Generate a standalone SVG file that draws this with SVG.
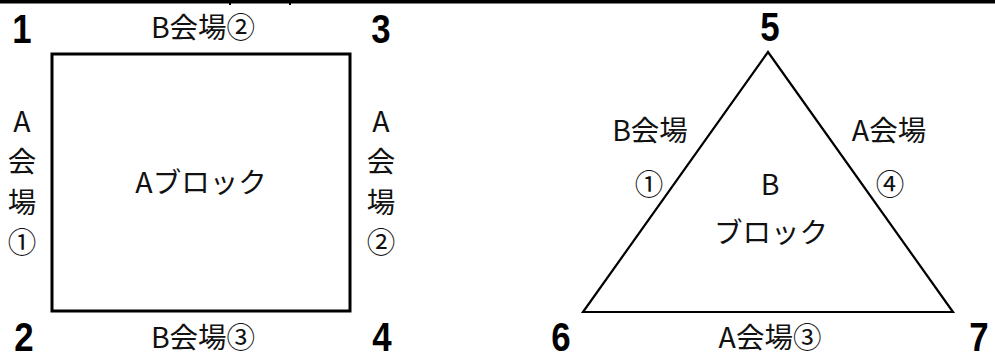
<svg xmlns="http://www.w3.org/2000/svg" width="995" height="355" viewBox="0 0 995 355">
<style>
.t{font-family:"Noto Sans CJK JP","Liberation Sans",sans-serif;font-size:28.5px;fill:#111;text-anchor:middle}
.n{font-family:"Liberation Sans",Arial,sans-serif;font-size:41px;font-weight:bold;fill:#000;text-anchor:middle}
.s{fill:none;stroke:#000}
</style>
<rect width="995" height="355" fill="#fff"/>
<g id="frame">
<line class="s" x1="0" y1="1.75" x2="995" y2="1.75" stroke-width="3.5"/>
<line class="s" x1="230" y1="0" x2="230" y2="5" stroke-width="2"/>
<line class="s" x1="290" y1="0" x2="290" y2="5" stroke-width="2"/>
</g>
<g id="a-block">
<rect class="s" x="52" y="54" width="298" height="257" stroke-width="3"/>
<text class="t" x="201" y="193">Aブロック</text>
</g>
<g id="b-block">
<polygon class="s" points="768,52 583,312 953,312" stroke-width="2.2" stroke-linejoin="miter"/>
<text class="t" x="770" y="195">B</text>
<text class="t" x="771" y="243">ブロック</text>
</g>
<g id="labels-a">
<text class="t" x="203" y="38">B会場②</text>
<text class="t" x="203" y="348">B会場③</text>
<text class="t" x="22" y="132">A</text>
<text class="t" x="22" y="172">会</text>
<text class="t" x="22" y="213">場</text>
<text class="t" x="22" y="253">①</text>
<text class="t" x="381" y="132">A</text>
<text class="t" x="381" y="172">会</text>
<text class="t" x="381" y="213">場</text>
<text class="t" x="381" y="253">②</text>
</g>
<g id="labels-b">
<text class="t" x="650" y="141">B会場</text>
<text class="t" x="649" y="195">①</text>
<text class="t" x="889" y="141">A会場</text>
<text class="t" x="890" y="195">④</text>
<text class="t" x="770" y="348">A会場③</text>
</g>
<g id="numbers">
<text class="n" transform="translate(22,43) scale(0.85,1)">1</text>
<text class="n" transform="translate(24,351) scale(0.85,1)">2</text>
<text class="n" transform="translate(381,43) scale(0.85,1)">3</text>
<text class="n" transform="translate(382,351) scale(0.85,1)">4</text>
<text class="n" transform="translate(770,41) scale(0.85,1)">5</text>
<text class="n" transform="translate(561,351) scale(0.85,1)">6</text>
<text class="n" transform="translate(979,351) scale(0.85,1)">7</text>
</g>
</svg>
